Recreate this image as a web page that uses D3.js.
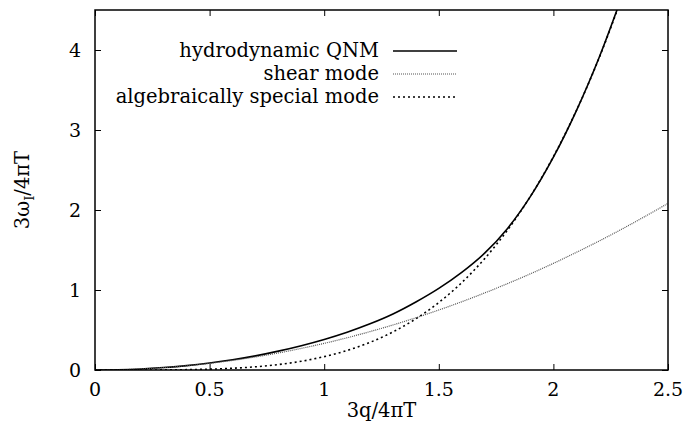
<!DOCTYPE html>
<html>
<head>
    <meta charset="UTF-8">
    <title>Hydrodynamic QNM</title>
    <script src="https://d3js.org/d3.v7.min.js"></script>
    <style>
        body { margin: 0; background: #fff; }
        .tick-label { font-size: 19px; }
        .axis-label { font-size: 19.5px; }
        .legend-label { font-size: 19.5px; text-anchor: end; }
    </style>
</head>
<body>
<div id="chart"></div>
<script>
    // values, x = 3q/4piT
    const qValues = [0, 0.1, 0.2, 0.3, 0.4, 0.5, 0.6, 0.7, 0.8, 0.9, 1.0, 1.1, 1.2,
        1.3, 1.4, 1.5, 1.6, 1.7, 1.8, 1.9, 2.0, 2.1, 2.2, 2.3, 2.4, 2.5];
    const hydroQNM = [0, 0.003, 0.013, 0.031, 0.055, 0.088, 0.128, 0.177, 0.236, 0.304, 0.382,
        0.472, 0.577, 0.70, 0.85, 1.02, 1.22, 1.46, 1.77, 2.17, 2.66, 3.24, 3.91, 4.68];
    const shearMode = [0, 0.003, 0.013, 0.03, 0.053, 0.083, 0.12, 0.163, 0.213, 0.27, 0.333,
        0.403, 0.48, 0.563, 0.653, 0.75, 0.853, 0.963, 1.08, 1.203, 1.333, 1.47, 1.613,
        1.763, 1.92, 2.083];
    const specialMode = [0, 0.0001, 0.0003, 0.0014, 0.0043, 0.0104, 0.0216, 0.040, 0.068, 0.109,
        0.167, 0.244, 0.346, 0.476, 0.640, 0.844, 1.092, 1.392, 1.750, 2.172, 2.667, 3.241,
        3.904, 4.665];
    const xTicks = [0, 0.5, 1, 1.5, 2, 2.5];
    const yTicks = [0, 1, 2, 3, 4];
    const legendNames = ["hydrodynamic QNM", "shear mode", "algebraically special mode"];

    const width = 686;
    const height = 437;
    const marginLeft = 95;
    const marginRight = 18;
    const marginTop = 10;
    const marginBottom = 67;

    const svg = d3.select('#chart')
        .append('svg')
        .attr('width', width)
        .attr('height', height)
        .attr('font-family', "'DejaVu Serif', 'Liberation Serif', 'Noto Serif', serif");

    const x = d3.scaleLinear()
        .domain([0, 2.5])
        .range([marginLeft, width - marginRight]);

    const y = d3.scaleLinear()
        .domain([0, 4.5])
        .range([height - marginBottom, marginTop]);

    svg.append('defs').append('clipPath')
        .attr('id', 'clip')
        .append('rect')
        .attr('x', x(0))
        .attr('y', y(4.5))
        .attr('width', x(2.5) - x(0))
        .attr('height', y(0) - y(4.5));

    // ticks on all four sides, pointing inward
    const tickLen = 6;
    svg.append('g')
        .attr('transform', `translate(0, ${y(0)})`)
        .call(d3.axisBottom(x).tickValues(xTicks).tickSize(-tickLen).tickFormat(''))
        .call(g => g.select('.domain').remove());
    svg.append('g')
        .attr('transform', `translate(0, ${y(4.5)})`)
        .call(d3.axisTop(x).tickValues(xTicks).tickSize(-tickLen).tickFormat(''))
        .call(g => g.select('.domain').remove());
    svg.append('g')
        .attr('transform', `translate(${x(0)}, 0)`)
        .call(d3.axisLeft(y).tickValues(yTicks).tickSize(-tickLen).tickFormat(''))
        .call(g => g.select('.domain').remove());
    svg.append('g')
        .attr('transform', `translate(${x(2.5)}, 0)`)
        .call(d3.axisRight(y).tickValues(yTicks).tickSize(-tickLen).tickFormat(''))
        .call(g => g.select('.domain').remove());
    svg.selectAll('.tick line').attr('stroke', '#000').attr('stroke-width', 1);

    svg.selectAll('.xlab')
        .data(xTicks)
        .enter()
        .append('text')
        .attr('class', 'tick-label')
        .attr('x', d => x(d))
        .attr('y', y(0) + 26)
        .attr('text-anchor', 'middle')
        .text(d => d);

    svg.selectAll('.ylab')
        .data(yTicks)
        .enter()
        .append('text')
        .attr('class', 'tick-label')
        .attr('x', x(0) - 14)
        .attr('y', d => y(d) + 7)
        .attr('text-anchor', 'end')
        .text(d => d);

    svg.append('text')
        .attr('class', 'axis-label')
        .attr('x', (x(0) + x(2.5)) / 2)
        .attr('y', 417)
        .attr('text-anchor', 'middle')
        .text('3q/4πT');

    const yl = svg.append('text')
        .attr('class', 'axis-label')
        .attr('transform', `translate(29, ${(y(0) + y(4.5)) / 2}) rotate(-90)`)
        .attr('text-anchor', 'middle');
    yl.append('tspan').text('3ω');
    yl.append('tspan').attr('font-size', '13px').attr('dy', 5).text('I');
    yl.append('tspan').attr('dy', -5).text('/4πT');

    const line = d3.line()
        .x((d, i) => x(qValues[i]))
        .y(d => y(d))
        .curve(d3.curveCatmullRom);

    const series = [
        { name: legendNames[0], values: hydroQNM, color: '#000', width: 1.6, dash: null },
        { name: legendNames[1], values: shearMode, color: '#555', width: 1.2, dash: '1,1' },
        { name: legendNames[2], values: specialMode, color: '#000', width: 1.6, dash: '2,3' }
    ];

    const plot = svg.append('g').attr('clip-path', 'url(#clip)');
    plot.selectAll('path')
        .data(series)
        .enter()
        .append('path')
        .attr('d', d => line(d.values))
        .attr('fill', 'none')
        .attr('stroke', d => d.color)
        .attr('stroke-width', d => d.width)
        .attr('stroke-dasharray', d => d.dash);

    // legend
    const legend = svg.append('g');
    series.forEach((s, i) => {
        const ly = 51 + i * 23;
        legend.append('text')
            .attr('class', 'legend-label')
            .attr('x', 379)
            .attr('y', ly + 6)
            .text(s.name);
        legend.append('line')
            .attr('x1', 393)
            .attr('x2', 457)
            .attr('y1', ly)
            .attr('y2', ly)
            .attr('stroke', s.color)
            .attr('stroke-width', s.width)
            .attr('stroke-dasharray', s.dash);
    });

    // frame
    svg.append('rect')
        .attr('x', x(0))
        .attr('y', y(4.5))
        .attr('width', x(2.5) - x(0))
        .attr('height', y(0) - y(4.5))
        .attr('fill', 'none')
        .attr('stroke', '#000')
        .attr('stroke-width', 1.5);
</script>
</body>
</html>
